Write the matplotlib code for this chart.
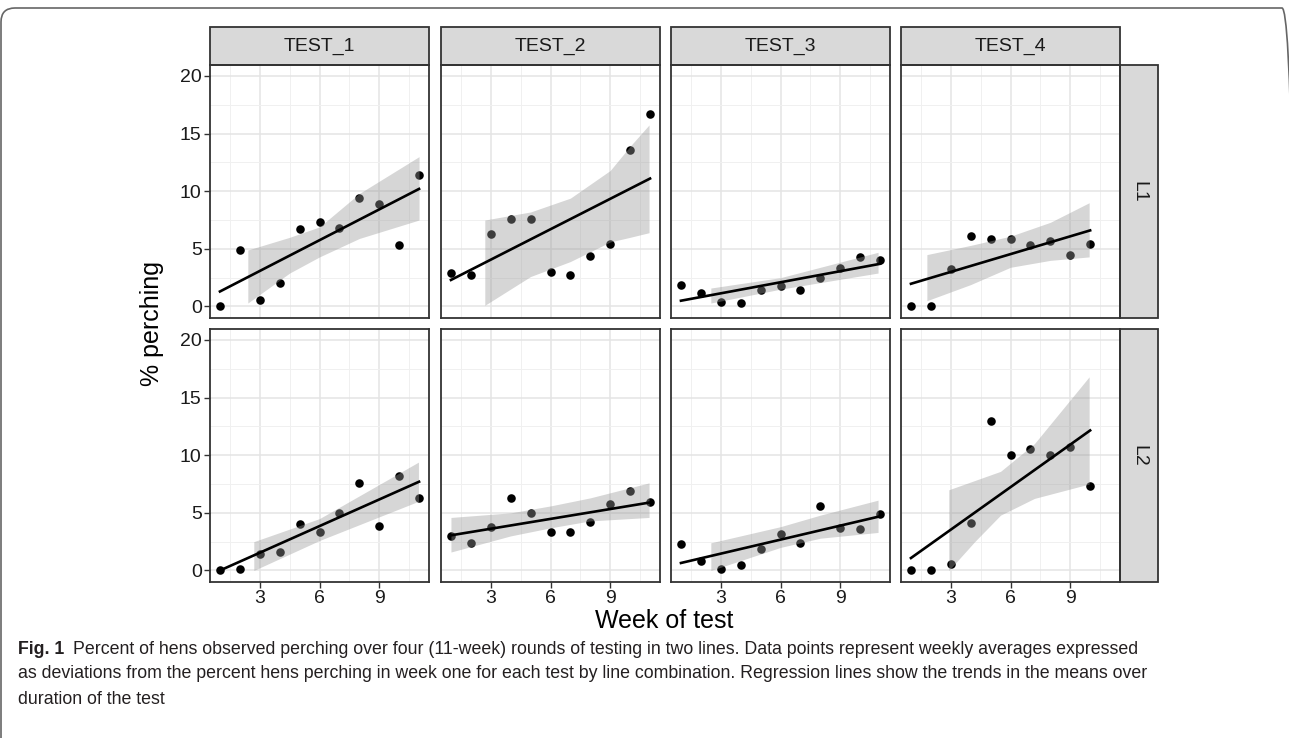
import matplotlib
matplotlib.use("Agg")
import matplotlib.pyplot as plt
from matplotlib.patches import Rectangle, FancyBboxPatch
import numpy as np

tests = ["TEST_1", "TEST_2", "TEST_3", "TEST_4"]
lines = ["L1", "L2"]

weeks_11 = [1, 2, 3, 4, 5, 6, 7, 8, 9, 10, 11]
weeks_10 = [1, 2, 3, 4, 5, 6, 7, 8, 9, 10]

# weekly points (% perching, deviation from week one)
t1_l1 = [0.0, 4.86, 0.58, 2.0, 6.7, 7.3, 6.8, 9.4, 8.9, 5.3, 11.4]
t2_l1 = [2.9, 2.75, 6.3, 7.6, 7.6, 3.0, 2.7, 4.4, 5.4, 13.6, 16.7]
t3_l1 = [1.85, 1.16, 0.4, 0.26, 1.45, 1.8, 1.45, 2.5, 3.3, 4.3, 4.0]
t4_l1 = [0.0, 0.0, 3.27, 6.1, 5.85, 5.85, 5.3, 5.7, 4.45, 5.4]
t1_l2 = [0.0, 0.15, 1.45, 1.6, 4.0, 3.3, 5.0, 7.6, 3.9, 8.2, 6.3]
t2_l2 = [3.0, 2.4, 3.8, 6.3, 5.0, 3.3, 3.3, 4.2, 5.8, 6.9, 5.9]
t3_l2 = [2.3, 0.8, 0.1, 0.45, 1.9, 3.15, 2.4, 5.6, 3.7, 3.6, 4.9]
t4_l2 = [0.0, 0.0, 0.58, 4.15, 12.95, 10.05, 10.5, 10.05, 10.75, 7.35]

# regression line values at first and last week
fit_l1 = [(1.3, 10.2), (2.3, 11.1), (0.5, 3.7), (1.97, 6.6)]
fit_l2 = [(0.0, 7.7), (3.05, 5.9), (0.65, 4.7), (1.08, 12.15)]

# confidence ribbons: x, upper, lower
band_x_l1 = [[2.4, 4.5, 6.0, 8.0, 11.0],
             [2.7, 5.0, 7.0, 9.0, 10.0, 10.95],
             [2.5, 6.0, 10.9],
             [1.8, 4.0, 6.0, 8.0, 9.95]]
band_hi_l1 = [[4.9, 6.0, 6.9, 9.8, 13.0],
              [7.5, 8.2, 9.4, 11.8, 13.9, 15.75],
              [1.6, 2.5, 4.7],
              [4.5, 5.3, 6.1, 7.3, 9.0]]
band_lo_l1 = [[0.3, 2.9, 4.3, 5.9, 7.5],
              [0.1, 2.6, 3.9, 5.6, 6.0, 6.4],
              [0.3, 1.5, 2.9],
              [0.5, 1.9, 3.4, 4.0, 4.3]]
band_x_l2 = [[2.7, 6.0, 10.97],
             [1.0, 4.0, 6.0, 8.0, 10.95],
             [2.5, 6.0, 8.0, 10.9],
             [2.9, 4.2, 5.5, 7.2, 9.95]]
band_hi_l2 = [[2.5, 4.5, 9.4],
              [4.6, 5.0, 5.6, 6.3, 7.6],
              [2.4, 3.8, 4.8, 6.1],
              [7.0, 7.8, 8.6, 11.0, 16.8]]
band_lo_l2 = [[0.0, 2.6, 6.0],
              [1.6, 3.0, 3.7, 4.3, 4.6],
              [0.0, 2.0, 2.8, 3.3],
              [0.0, 2.5, 4.8, 6.25, 7.5]]

points = [[t1_l1, t2_l1, t3_l1, t4_l1], [t1_l2, t2_l2, t3_l2, t4_l2]]
fits = [fit_l1, fit_l2]
band_x = [band_x_l1, band_x_l2]
band_hi = [band_hi_l1, band_hi_l2]
band_lo = [band_lo_l1, band_lo_l2]

W, H = 1289, 738
fig = plt.figure(figsize=(W / 100, H / 100), dpi=100)
plt.rcParams['font.family'] = ['Liberation Sans', 'DejaVu Sans']

col_left = [210, 441, 671, 901]
panel_w = 219
row_top = [65, 329]
panel_h = 253
strip_h = 38
strip_w = 38
border = "#333333"

for r in range(2):
    for c in range(4):
        l = col_left[c]
        t = row_top[r]
        ax = fig.add_axes([l / W, 1 - (t + panel_h) / H, panel_w / W, panel_h / H])
        ax.set_xlim(0.5, 11.5)
        ax.set_ylim(-1.0, 20.95)
        ax.set_xticks([3, 6, 9])
        ax.set_xticks([1.5, 4.5, 7.5, 10.5], minor=True)
        ax.set_yticks([0, 5, 10, 15, 20])
        ax.set_yticks([2.5, 7.5, 12.5, 17.5], minor=True)
        ax.grid(which="major", color="#e4e4e4", lw=1.1, zorder=0)
        ax.grid(which="minor", color="#f0f0f0", lw=0.7, zorder=0)
        ax.set_axisbelow(True)
        for s in ax.spines.values():
            s.set_color(border)
            s.set_linewidth(1.3)
        ax.tick_params(which="minor", length=0)
        ax.tick_params(which="major", length=4, width=1, color=border,
                       labelsize=14, labelcolor="#1a1a1a", pad=2)
        if c > 0:
            ax.tick_params(axis="y", left=False, labelleft=False)
        if r == 0:
            ax.tick_params(axis="x", bottom=False, labelbottom=False)

        y = points[r][c]
        x = weeks_11 if len(y) == 11 else weeks_10
        ax.scatter(x, y, s=38, color="black", zorder=2, linewidths=0)
        ax.fill_between(band_x[r][c], band_lo[r][c], band_hi[r][c],
                        color="#999999", alpha=0.4, lw=0, zorder=3)
        y0, y1 = fits[r][c]
        ax.plot([x[0], x[-1]], [y0, y1], color="black", lw=1.9, zorder=4)

        if r == 0:
            ax.add_patch(Rectangle((0, 1), 1, strip_h / panel_h, transform=ax.transAxes,
                                   facecolor="#d9d9d9", edgecolor=border, lw=1.3,
                                   clip_on=False))
            ax.text(0.5, 1 + strip_h / panel_h / 2, tests[c], transform=ax.transAxes,
                    ha="center", va="center", fontsize=14, color="#1a1a1a")
        if c == 3:
            ax.add_patch(Rectangle((1, 0), strip_w / panel_w, 1, transform=ax.transAxes,
                                   facecolor="#d9d9d9", edgecolor=border, lw=1.3,
                                   clip_on=False))
            ax.text(1 + strip_w / panel_w / 2, 0.5, lines[r], transform=ax.transAxes,
                    ha="center", va="center", rotation=-90, fontsize=14, color="#1a1a1a")

fig.text(664 / W, 1 - 621 / H, "Week of test", ha="center", va="center", fontsize=18)
fig.text(152 / W, 1 - 323 / H, "% perching", ha="center", va="center",
         rotation=90, fontsize=18)

# outer rounded frame
fig.add_artist(FancyBboxPatch((1, -20), 1295, H - 8 + 20,
                              boxstyle="round,pad=0,rounding_size=14",
                              transform=None, facecolor="none",
                              edgecolor="#666666", lw=1.2))

# caption
cap_font = ['Liberation Sans', 'DejaVu Sans']
cap_size = 12.8
cap_color = "#231f20"
fig.canvas.draw()
renderer = fig.canvas.get_renderer()
bold = fig.text(18 / W, 1 - 649 / H, "Fig. 1", ha="left", va="center",
                fontsize=cap_size, fontweight="bold", family=cap_font, color=cap_color)
bb = bold.get_window_extent(renderer)
fig.text((bb.x1 + 9) / W, 1 - 649 / H,
         "Percent of hens observed perching over four (11-week) rounds of testing in two lines. "
         "Data points represent weekly averages expressed",
         ha="left", va="center", fontsize=cap_size, family=cap_font, color=cap_color)
fig.text(18 / W, 1 - 674 / H,
         "as deviations from the percent hens perching in week one for each test by line "
         "combination. Regression lines show the trends in the means over",
         ha="left", va="center", fontsize=cap_size, family=cap_font, color=cap_color)
fig.text(18 / W, 1 - 699 / H, "duration of the test",
         ha="left", va="center", fontsize=cap_size, family=cap_font, color=cap_color)

fig.savefig("out.png", dpi=100)
